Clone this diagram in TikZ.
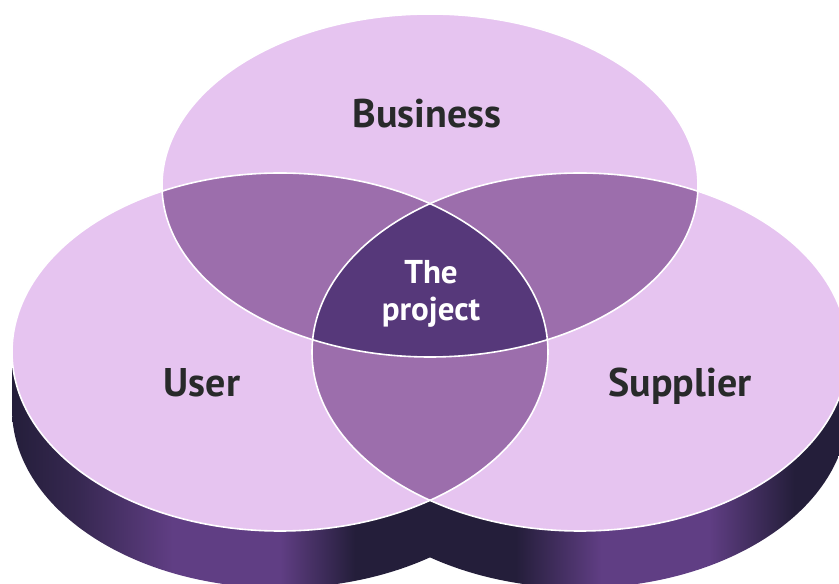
\documentclass[tikz,border=0pt]{standalone}
\usepackage{fontspec}
\setmainfont{PT Sans}
\usepackage{xcolor}
\usepackage{tikz}
\definecolor{lavender}{RGB}{230,196,240}
\definecolor{mauve}{RGB}{156,110,172}
\definecolor{plum}{RGB}{86,56,122}
\definecolor{rimdark}{RGB}{36,30,58}
\definecolor{rimlight}{RGB}{96,62,132}
\definecolor{ink}{RGB}{40,42,42}

\pgfdeclarehorizontalshading{userrim}{100bp}{color(0bp)=(rimdark); color(25bp)=(rimdark); color(31bp)=(rimdark!70!rimlight); color(40bp)=(rimlight); color(50bp)=(rimlight); color(57bp)=(rimdark); color(100bp)=(rimdark)}
\pgfdeclarehorizontalshading{supplierrim}{100bp}{color(0bp)=(rimdark); color(44bp)=(rimdark); color(52bp)=(rimlight); color(62bp)=(rimlight); color(70bp)=(rimdark); color(100bp)=(rimdark)}

\begin{document}
\begin{tikzpicture}[
    x=1pt, y=1pt,
    busdim/.style={x radius=268, y radius=171.5},
    lobedim/.style={x radius=268, y radius=179},
    lobe/.style={fill=lavender},
    pairzone/.style={fill=mauve},
    corezone/.style={fill=plum},
    outline/.style={draw=white, line width=1.6pt},
    lobetext/.style={font=\bfseries\fontsize{40}{44}\selectfont, text=ink, inner sep=0pt},
    coretext/.style={font=\bfseries\fontsize{33}{37}\selectfont, text=white, align=center, inner sep=0pt}
]
\useasboundingbox (0,0) rectangle (839,584);
\clip (0,0) rectangle (839,584);

\coordinate (business) at (430,398.5);
\coordinate (user) at (280,232);
\coordinate (supplier) at (580,232);

% depth of the two front discs
\shade[shading=userrim] ([xshift=-268]user) -- ++(0,-57)
    arc [start angle=180, end angle=360, lobedim] -- ([xshift=268]user)
    arc [start angle=0, end angle=-180, lobedim] -- cycle;
\shade[shading=supplierrim] ([xshift=-268]supplier) -- ++(0,-57)
    arc [start angle=180, end angle=360, lobedim] -- ([xshift=268]supplier)
    arc [start angle=0, end angle=-180, lobedim] -- cycle;

% the three sets
\fill[lobe] (business) ellipse [busdim];
\fill[lobe] (user) ellipse [lobedim];
\fill[lobe] (supplier) ellipse [lobedim];

\begin{scope}
    \clip (business) ellipse [busdim];
    \fill[pairzone] (user) ellipse [lobedim];
    \fill[pairzone] (supplier) ellipse [lobedim];
\end{scope}
\begin{scope}
    \clip (user) ellipse [lobedim];
    \fill[pairzone] (supplier) ellipse [lobedim];
\end{scope}
\begin{scope}
    \clip (business) ellipse [busdim];
    \clip (user) ellipse [lobedim];
    \fill[corezone] (supplier) ellipse [lobedim];
\end{scope}

\draw[outline] (business) ellipse [busdim];
\draw[outline] (user) ellipse [lobedim];
\draw[outline] (supplier) ellipse [lobedim];

\node[lobetext, anchor=base] (businesslabel) at (427,456) {Business};
\node[lobetext, anchor=base] (userlabel) at (202,187) {User};
\node[lobetext, anchor=base] (supplierlabel) at (680,187) {Supplier};
\node[coretext] (projectlabel) at (431,290) {The\\project};

\end{tikzpicture}
\end{document}
